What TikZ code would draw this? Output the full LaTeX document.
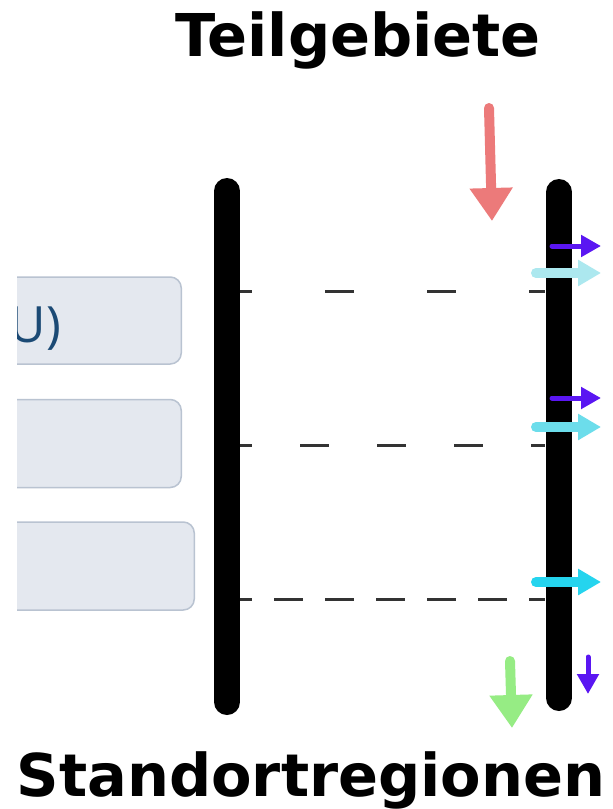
\documentclass[tikz,border=0pt]{standalone}
\usepackage{fontspec}
\setmainfont{DejaVu Sans}
\newfontfamily\boxfont{Open Sans}
\usetikzlibrary{arrows.meta}
\definecolor{redA}{HTML}{EC7A7A}
\definecolor{greenA}{HTML}{96EC84}
\definecolor{purpA}{HTML}{5A16F2}
\definecolor{cyanA}{HTML}{ACE8EF}
\definecolor{cyanB}{HTML}{6CDDEB}
\definecolor{cyanC}{HTML}{25D4EE}
\definecolor{boxfill}{HTML}{E4E8EF}
\definecolor{boxline}{HTML}{B9C3D1}
\definecolor{boxtext}{HTML}{1B4A75}
\begin{document}
\begin{tikzpicture}[x=1pt,y=-1pt,
  titlefont/.style={font=\bfseries\fontsize{59}{59}\selectfont},
  boxstyle/.style={draw=boxline, fill=boxfill, line width=1.5pt, rounded corners=11pt, inner sep=0pt},
  bar/.style={line width=26pt, line cap=round, black},
  dashline/.style={line width=3pt, draw=black!80},
  bigarrow/.style={line width=10pt, line cap=round, -{Triangle[length=33pt,width=41pt]}},
  cyanarrow/.style={line width=10pt, line cap=round, -{Triangle[length=23pt,width=25pt]}},
  purparrow/.style={line width=5pt, line cap=round, purpA, -{Triangle[length=20pt,width=21pt]}}
]
\useasboundingbox (0,0) rectangle (613,809);
\fill[white] (0,0) rectangle (613,809);

% titles
\node (top) [titlefont, anchor=base] at (358,56) {Teilgebiete};
\node (bottom) [titlefont, anchor=base] at (311,796) {Standortregionen};

% boxes (clipped at left)
\begin{scope}
\clip (17,0) rectangle (613,809);
\node (b1) [boxstyle, minimum width=220pt, minimum height=87pt, anchor=east] at (182,320.5) {};
\node (b2) [boxstyle, minimum width=220pt, minimum height=88pt, anchor=east] at (182,443.5) {};
\node (b3) [boxstyle, minimum width=233pt, minimum height=88pt, anchor=east] at (195,566) {};
\node (t1) [anchor=base east, text=boxtext, inner sep=0pt, font=\boxfont\fontsize{50}{50}\selectfont] at (61,342) {U)};
\end{scope}

% dashed lines
\coordinate (d1a) at (223,291); \coordinate (d1b) at (545,291);
\coordinate (d2a) at (223,445); \coordinate (d2b) at (545,445);
\coordinate (d3a) at (223,599); \coordinate (d3b) at (545,599);
\draw[dashline, dash pattern=on 29pt off 73pt] (d1a) -- (d1b);
\draw[dashline, dash pattern=on 29pt off 48pt] (d2a) -- (d2b);
\draw[dashline, dash pattern=on 29pt off 22pt] (d3a) -- (d3b);

% bars
\coordinate (lt) at (227,191); \coordinate (lb) at (227,702);
\coordinate (rt) at (559,192); \coordinate (rb) at (559,698);
\draw[bar] (lt) -- (lb);
\draw[bar] (rt) -- (rb);

% down arrows
\coordinate (ra) at (489,108); \coordinate (rz) at (492,221);
\draw[bigarrow, redA] (ra) -- (rz);
\coordinate (ga) at (510,661); \coordinate (gz) at (512,728);
\draw[bigarrow, greenA] (ga) -- (gz);
\coordinate (pa) at (588,657); \coordinate (pz) at (588,694);
\draw[purparrow] (pa) -- (pz);

% right arrows
\coordinate (p1a) at (552,246); \coordinate (p1z) at (601,246);
\draw[purparrow] (p1a) -- (p1z);
\coordinate (c1a) at (536,273); \coordinate (c1z) at (601,273);
\draw[cyanarrow, cyanA] (c1a) -- (c1z);
\coordinate (p2a) at (552,398); \coordinate (p2z) at (601,398);
\draw[purparrow] (p2a) -- (p2z);
\coordinate (c2a) at (536,427); \coordinate (c2z) at (601,427);
\draw[cyanarrow, cyanB] (c2a) -- (c2z);
\coordinate (c3a) at (536,582); \coordinate (c3z) at (601,582);
\draw[cyanarrow, cyanC] (c3a) -- (c3z);
\end{tikzpicture}
\end{document}
